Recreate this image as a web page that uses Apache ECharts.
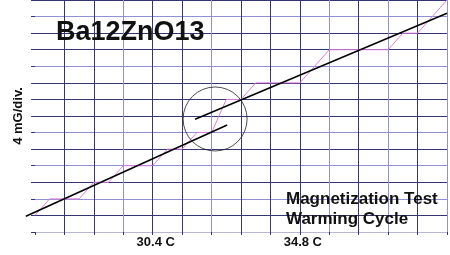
<!DOCTYPE html>
<html>
<head>
<meta charset="utf-8">
<script src="https://cdn.jsdelivr.net/npm/echarts@6/dist/echarts.min.js"></script>
<style>html,body{margin:0;padding:0;background:#fff;}#c{width:450px;height:255px;}</style>
</head>
<body>
<div id="c"></div>
<script>
// Data (x in grid divisions, y in divisions of 4 mG)
const stepX = [0, 0.5, 1.5, 2, 2.5, 3, 4, 4.5, 5, 5.5, 6, 6.5, 7, 7.5, 9, 10, 12, 12.5, 13, 14];
const stepY = [1, 2, 2, 3, 3, 4, 4, 5, 5, 6, 6, 8, 8, 9, 9, 11, 11, 12, 12, 14];
const fitLowX = [-0.31, 6.53];
const fitLowY = [0.95, 6.46];
const fitHighX = [5.44, 14.0];
const fitHighY = [6.80, 13.2];
const circleX = [6.12];
const circleY = [6.82];
const xLabelPos = [4, 9];
const xLabelText = ['30.4 C', '34.8 C'];
const yAxisTitle = '4 mG/div.';
const chartTitle = 'Ba12ZnO13';
const noteText = ['Magnetization Test', 'Warming Cycle'];

const D = '#35356f', L = '#9090d2';
const zip = (a, b) => a.map((v, i) => [v, b[i]]);
const FONT = '"Liberation Sans", Arial, sans-serif';
const COL = 412 / 14; // one division in px (plot width / 14)

const chart = echarts.init(document.getElementById('c'), null, {renderer: 'canvas'});
chart.setOption({
  animation: false,
  backgroundColor: '#ffffff',
  title: [
    {text: chartTitle, left: 51, top: 14,
     textStyle: {fontFamily: FONT, fontSize: 27, fontWeight: 'bold', color: '#111'}},
    {text: noteText.join('\n'), left: 281, top: 184,
     textStyle: {fontFamily: FONT, fontSize: 17, fontWeight: 'bold', color: '#111', lineHeight: 20}}
  ],
  grid: [
    {left: 35, right: 3, top: 0, bottom: 23},
    {left: 35 - COL, right: 3, top: 0, bottom: 23}
  ],
  xAxis: [{
    type: 'value', min: 0, max: 14, interval: 1,
    axisLine: {show: false},
    axisTick: {show: true, length: 3, lineStyle: {color: D}},
    axisLabel: {
      show: true, margin: 4, padding: [0, 0, 0, 6],
      fontFamily: FONT, fontSize: 13, fontWeight: 'bold', color: '#111',
      formatter: v => { const i = xLabelPos.indexOf(v); return i >= 0 ? xLabelText[i] : ''; }
    },
    splitLine: {show: true, lineStyle: {width: 1,
      color: ['rgba(255,255,255,0)', D, D, L, D, D, L, D, D, D, L, D, L, D, L]}}
  }, {
    gridIndex: 1, type: 'value', min: -1, max: 14, interval: 1, show: false
  }],
  yAxis: [{
    type: 'value', min: 0, max: 14, interval: 1,
    name: yAxisTitle, nameLocation: 'middle', nameRotate: 90, nameGap: 10,
    nameTextStyle: {fontFamily: FONT, fontSize: 13, fontWeight: 'bold', color: '#111'},
    axisLine: {show: false},
    axisTick: {show: true, length: 4, lineStyle: {color: D}},
    axisLabel: {show: false},
    splitLine: {show: true, lineStyle: {width: 1,
      color: ['#b8b8d0', D, L, D, L, D, L, D, D, D, L, D, D, L, D]}}
  }, {
    gridIndex: 1, type: 'value', min: 0, max: 14, interval: 1, show: false
  }],
  series: [
    {type: 'line', data: zip(stepX, stepY), symbol: 'none',
     lineStyle: {color: '#e07ee0', width: 1}, z: 3},
    {type: 'line', xAxisIndex: 1, yAxisIndex: 1, data: zip(fitLowX, fitLowY), symbol: 'none',
     lineStyle: {color: '#000', width: 1.5}, z: 4},
    {type: 'line', data: zip(fitHighX, fitHighY), symbol: 'none', clip: false,
     lineStyle: {color: '#000', width: 1.5}, z: 4},
    {type: 'scatter', data: zip(circleX, circleY), symbol: 'circle', symbolSize: 64, clip: false,
     itemStyle: {color: 'rgba(0,0,0,0)', borderColor: '#222', borderWidth: 1}, z: 5, silent: true}
  ]
});
</script>
</body>
</html>
